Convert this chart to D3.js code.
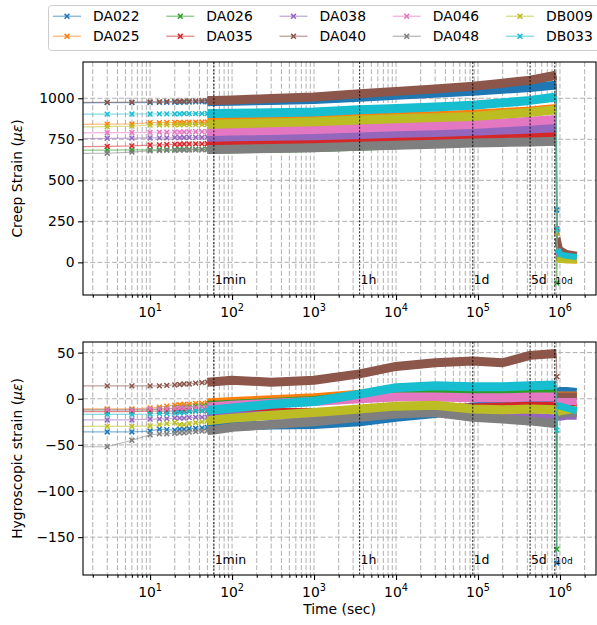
<!DOCTYPE html>
<html><head><meta charset="utf-8">
<script src="https://cdn.jsdelivr.net/npm/d3@7"></script>
<style>body{margin:0;background:#fff}svg{font-family:"DejaVu Sans",sans-serif;display:block}</style>
</head><body><svg id="c" width="597" height="625"></svg>
<script>
const seriesNames = ["DA022","DA025","DA026","DA035","DA038","DA040","DA046","DA048","DB009","DB033"];
const seriesColors = ["#1f77b4","#ff7f0e","#2ca02c","#d62728","#9467bd","#8c564b","#e377c2","#7f7f7f","#bcbd22","#17becf"];
// sample times (s) before unloading, and after unloading
const timesPre = [1,3,6,10,13,16,20,23,26,30,36,43,50,60,100,300,1000,3600,10000,30000,86400,200000,432000,900000];
const timesPost = [915000,930000,1000000,1200000,1600000];

const creepPre = [
 [972,973,973,974,975,975,976,976,977,977,978,978,979,980,982,987,993,1006,1018,1030,1042,1055,1066,1080],
 [840,842,843,851,851,852,852,853,853,854,854,855,855,856,860,866,872,880,887,894,902,913,923,938],
 [683,684,685,686,686,687,687,688,688,688,689,689,690,690,692,696,700,708,716,724,736,741,745,750],
 [705,707,710,715,716,718,719,720,721,721,722,722,723,723,725,728,731,738,745,752,762,768,772,777],
 [754,756,757,758,759,759,760,760,761,761,762,762,763,763,765,768,772,779,786,792,799,806,812,820],
 [974,975,976,978,979,980,981,982,982,983,984,985,986,987,990,998,1008,1028,1042,1056,1073,1092,1110,1140],
 [788,790,791,792,793,793,794,794,795,795,796,796,797,797,800,804,809,818,826,833,840,850,860,870],
 [663,665,672,680,681,682,683,684,685,685,686,686,687,688,690,694,699,708,714,720,727,731,734,738],
 [825,827,830,837,837,838,838,838,839,839,840,840,841,841,845,850,857,867,875,882,889,902,914,930],
 [903,903,904,904,905,905,905,905,906,906,906,906,907,907,909,912,916,930,938,947,958,972,987,1008]
];
const creepPost = [
 [319,120,70,52,42],
 [180,25,16,13,12],
 [-126,40,25,20,18],
 [185,60,35,28,24],
 [190,70,40,30,26],
 [205,150,80,58,46],
 [200,80,45,34,29],
 [180,45,28,22,19],
 [180,22,15,13,12],
 [200,80,50,40,32]
];
const hygroPre = [
 [-36,-36,-36,-35,-33,-33.5,-34,-33,-33,-32.5,-32,-31.5,-31,-30.5,-29.5,-28.5,-28,-25,-20,-16,-9,-6,-5,-6],
 [-11,-11,-11,-10,-9,-8,-7,-6.5,-6,-6,-5,-5,-4.5,-4,-3,-1,1,5,8,9,9.5,9,9.5,10],
 [-12,-12,-12,-12,-11,-11,-10,-10,-9,-9,-8,-8,-7,-7,-6,-4,-2,3,6,7,7,7,8,8],
 [-14,-14,-14,-13.5,-13.5,-13.5,-13.5,-13,-13,-13,-13,-13,-13,-13,-14,-15,-15,-14,-12,-10,-10,-9,-8,-8],
 [-23,-23,-23,-22,-22,-21.5,-21,-21,-21,-20.5,-20,-20,-20,-20,-19,-18,-17,-15,-14,-15,-17,-19,-20,-22],
 [14,14,14,14,14,14.5,15,15.5,16,16,17,17.5,18,18.5,20,18,20,27,35,39,41,39,47,49],
 [-12,-12,-12,-11,-11,-11,-10.5,-10,-10,-10,-9.5,-9,-9,-8.5,-7,-5,-3,0,2,2,1,1,2,2],
 [-52,-52,-45,-39,-38,-38,-37.5,-37,-37,-36,-35.5,-35,-34.5,-34,-31,-28,-25,-20,-16.5,-15,-20,-22,-24,-27],
 [-30,-30,-30,-29.5,-28,-27,-26,-28,-28,-27,-26,-25,-24,-23,-21,-18,-15,-11,-8,-7,-11,-12,-11,-12],
 [-17,-17,-17,-16.5,-16,-16,-15.5,-15,-15,-14,-13.5,-13,-12.5,-12,-10,-6,-3,5,12,14,13,13,14,15]
];
const hygroPost = [
 [-178,8,9,9,8],
 [0,4,4,4,4],
 [-163,2,2,2,2],
 [-8,-8,-8,-8,-8],
 [-20,-20,-20,-19,-19],
 [24,3,3,3,3],
 [-2,-3,-3,-3,-3],
 [-20,-17,-17,-16,-16],
 [-12,-15,-14,-13,-11],
 [-34,-7,-8,-10,-13]
];
const eventTimes = [60,3600,86400,432000,864000];
const eventLabels = ["1min","1h","1d","5d","10d"];
const creepTicks = [0,250,500,750,1000];
const hygroTicks = [-150,-100,-50,0,50];
const xTickExps = [1,2,3,4,5,6];

const svg = d3.select("#c");
const X0 = 83, X1 = 596;
const x = d3.scaleLog().domain([1.52, 2.75e6]).range([X0, X1]);
const minorTicks = [];
for (let e = 0; e <= 6; e++) for (let m = 2; m <= 9; m++) { const v = m * Math.pow(10, e); if (v > 1.52 && v < 2.75e6) minorTicks.push(v); }

const panels = [
  {top:62, bottom:295, domain:[-199,1221], ticks:creepTicks, pre:creepPre, post:creepPost, label:"Creep Strain (", labelY:178.5, bandPre:9, bandPost:6, evY:284, id:"p1"},
  {top:342, bottom:575, domain:[-191,61.5], ticks:hygroTicks, pre:hygroPre, post:hygroPost, label:"Hygroscopic strain (", labelY:458.5, bandPre:9, bandPost:7, evY:563.5, id:"p2"}
];

const markerPath = "M-2.4,-2.4L2.4,2.4M-2.4,2.4L2.4,-2.4";
const gridColor = "#b0b0b0";

panels.forEach(p => {
  const y = d3.scaleLinear().domain(p.domain).range([p.bottom, p.top]);
  svg.append("clipPath").attr("id", p.id).append("rect")
    .attr("x", X0).attr("y", p.top).attr("width", X1 - X0).attr("height", p.bottom - p.top);
  const g = svg.append("g");
  const grid = g.append("g").attr("stroke", gridColor).attr("stroke-width", 1).attr("stroke-dasharray", "5,2.2").attr("fill", "none");
  xTickExps.map(e => Math.pow(10, e)).concat(minorTicks).forEach(v => {
    grid.append("line").attr("x1", x(v)).attr("x2", x(v)).attr("y1", p.top).attr("y2", p.bottom);
  });
  p.ticks.forEach(v => {
    grid.append("line").attr("x1", X0).attr("x2", X1).attr("y1", y(v)).attr("y2", y(v));
  });

  const data = g.append("g").attr("clip-path", `url(#${p.id})`);
  seriesNames.forEach((name, i) => {
    const col = seriesColors[i];
    const pre = timesPre.map((t, k) => [t, p.pre[i][k]]);
    const post = timesPost.map((t, k) => [t, p.post[i][k]]);
    const all = pre.concat(post);
    const line = d3.line().x(d => x(d[0])).y(d => y(d[1]));
    const sg = data.append("g");
    sg.append("path").attr("d", line(all)).attr("fill", "none").attr("stroke", col).attr("stroke-width", 1.2).attr("stroke-opacity", 0.55);
    const bandA = pre.filter(d => d[0] >= 50);
    sg.append("path").attr("d", line(bandA)).attr("fill", "none").attr("stroke", col).attr("stroke-width", p.bandPre).attr("stroke-linejoin", "round");
    const bandB = post.slice(1);
    sg.append("path").attr("d", line(bandB)).attr("fill", "none").attr("stroke", col).attr("stroke-width", p.bandPost).attr("stroke-linejoin", "round");
    const mk = pre.filter(d => d[0] <= 60).concat([post[0]]);
    sg.selectAll("path.m").data(mk).enter().append("path").attr("class", "m")
      .attr("d", markerPath).attr("transform", d => `translate(${x(d[0])},${y(d[1])})`)
      .attr("stroke", col).attr("stroke-width", 1.5).attr("fill", "none");
  });

  // event lines
  const ev = g.append("g");
  eventTimes.forEach((t, k) => {
    ev.append("line").attr("x1", x(t)).attr("x2", x(t)).attr("y1", p.top).attr("y2", p.bottom)
      .attr("stroke", "#000").attr("stroke-width", 0.9).attr("stroke-dasharray", "2,1.6");
    ev.append("text").attr("x", x(t) + 0.8).attr("y", p.evY)
      .attr("font-size", k === 4 ? 9 : 12.5).attr("fill", "#000").text(eventLabels[k]);
  });

  // axes
  const xa = g.append("g").attr("transform", `translate(0,${p.bottom})`)
    .call(d3.axisBottom(x).tickValues(xTickExps.map(e => Math.pow(10, e))).tickSize(4.9).tickFormat(""));
  const xm = g.append("g").attr("transform", `translate(0,${p.bottom})`)
    .call(d3.axisBottom(x).tickValues(minorTicks).tickSize(2.8).tickFormat(""));
  [xa, xm].forEach(a => { a.select(".domain").remove(); a.selectAll("line").attr("stroke", "#000").attr("stroke-width", 1.1); });
  xTickExps.forEach(e => {
    const t = g.append("text").attr("x", x(Math.pow(10, e))).attr("y", p.bottom + 22).attr("text-anchor", "middle")
      .attr("font-size", 13.9).attr("fill", "#000");
    t.append("tspan").text("10");
    t.append("tspan").attr("dy", -6).attr("font-size", 9.7).text(String(e));
  });
  const ya = g.append("g").attr("transform", `translate(${X0},0)`)
    .call(d3.axisLeft(y).tickValues(p.ticks).tickSize(4.9).tickPadding(3.5).tickFormat(d => d < 0 ? "\u2212" + Math.abs(d) : String(d)));
  ya.select(".domain").remove();
  ya.selectAll("line").attr("stroke", "#000").attr("stroke-width", 1.1);
  ya.selectAll("text").attr("font-size", 13.9).attr("font-family", "DejaVu Sans").attr("fill", "#000");

  g.append("rect").attr("x", X0).attr("y", p.top).attr("width", X1 - X0).attr("height", p.bottom - p.top)
    .attr("fill", "none").attr("stroke", "#000").attr("stroke-width", 1.1);

  const yl = g.append("text").attr("transform", `translate(22,${p.labelY}) rotate(-90)`).attr("text-anchor", "middle")
    .attr("font-size", 13.9).attr("fill", "#000");
  yl.append("tspan").text(p.label);
  yl.append("tspan").attr("font-style", "italic").text("\u03bc\u03b5");
  yl.append("tspan").text(")");
});

svg.append("text").attr("x", (X0 + X1) / 2).attr("y", 614).attr("text-anchor", "middle").attr("font-size", 13.9).attr("fill", "#000").text("Time (sec)");

// legend
const lg = svg.append("g");
lg.append("rect").attr("x", 48.5).attr("y", 5.5).attr("width", 560).attr("height", 45).attr("rx", 3)
  .attr("fill", "#fff").attr("fill-opacity", 0.8).attr("stroke", "#cccccc").attr("stroke-width", 1);
const colX = [53, 166.3, 279.5, 392.7, 506];
const rowY = [16.3, 36.3];
seriesNames.forEach((name, i) => {
  const cx = colX[Math.floor(i / 2)], ry = rowY[i % 2];
  lg.append("line").attr("x1", cx).attr("x2", cx + 28).attr("y1", ry).attr("y2", ry)
    .attr("stroke", seriesColors[i]).attr("stroke-width", 1.5).attr("stroke-opacity", 0.5);
  lg.append("path").attr("d", markerPath).attr("transform", `translate(${cx + 14},${ry})`)
    .attr("stroke", seriesColors[i]).attr("stroke-width", 1.5).attr("fill", "none");
  lg.append("text").attr("x", cx + 40).attr("y", ry + 5).attr("font-size", 13.9).attr("fill", "#000").text(name);
});
</script></body></html>
